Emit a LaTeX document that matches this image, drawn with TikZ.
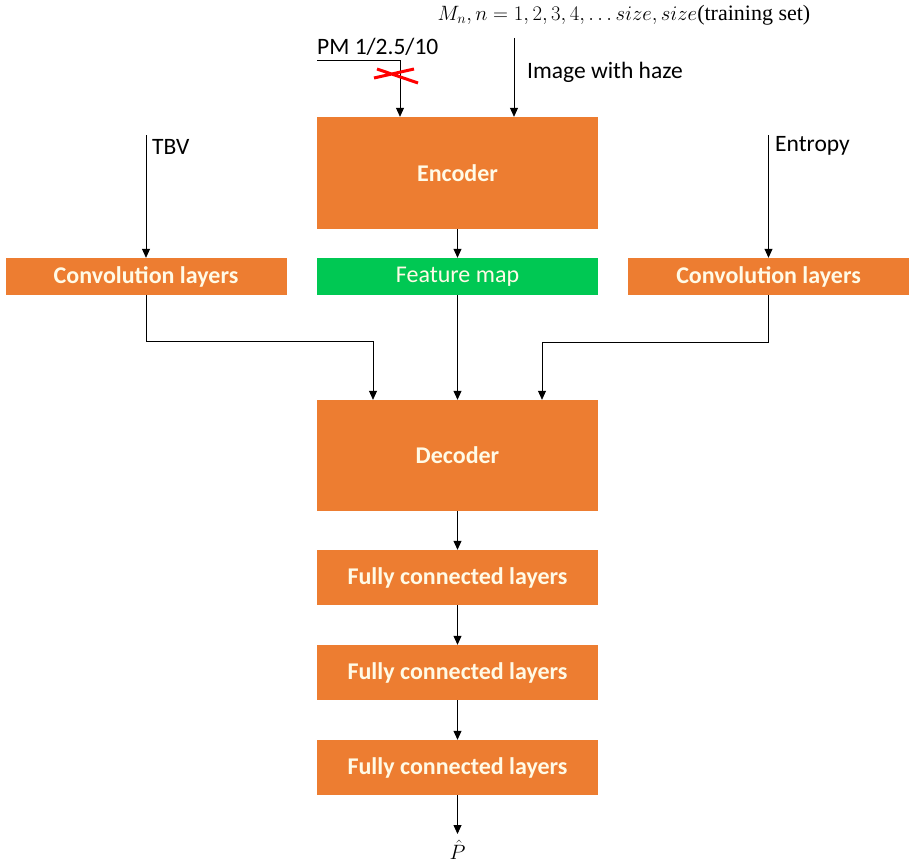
\documentclass[tikz,border=0pt]{standalone}
\usepackage{fontspec}
\setmainfont{Carlito}
\newfontfamily\timesfont{Liberation Serif}
\usetikzlibrary{arrows.meta}
\definecolor{boxorange}{RGB}{237,125,49}
\definecolor{boxgreen}{RGB}{0,200,83}
\definecolor{boxtext}{RGB}{255,250,230}
\tikzset{
  layer/.style={fill=boxorange,text=boxtext,font=\fontsize{24}{28}\selectfont\bfseries,
    minimum width=281pt,inner sep=0pt},
  feat/.style={layer,fill=boxgreen,font=\fontsize{24}{28}\selectfont},
  lbl/.style={font=\fontsize{23.5}{28}\selectfont,inner sep=0pt},
  link/.style={-{Triangle[length=9pt,width=8pt]},line width=0.8pt}
}
\begin{document}
\begin{tikzpicture}[x=1pt,y=-1pt]
\useasboundingbox (0,0) rectangle (916,867);
% boxes
\node[layer,minimum height=112pt] (enc) at (457.5,173) {Encoder};
\node[layer,minimum height=37pt] (convl) at (146,276.5) {Convolution layers};
\node[feat,minimum height=37pt] (fmap) at (457.5,276.5) {Feature map};
\node[layer,minimum height=37pt] (convr) at (768.5,276.5) {Convolution layers};
\node[layer,minimum height=111pt] (dec) at (457.5,455.5) {Decoder};
\node[layer,minimum height=55pt] (fc1) at (457.5,577.5) {Fully connected layers};
\node[layer,minimum height=55pt] (fc2) at (457.5,672.5) {Fully connected layers};
\node[layer,minimum height=55pt] (fc3) at (457.5,767.5) {Fully connected layers};
\node[inner sep=0pt,anchor=north,font=\fontsize{22}{24}\selectfont] (phat) at (457.5,840) {$\hat{P}$};
% labels
\node[inner sep=0pt,font=\timesfont\fontsize{22}{24}\selectfont] (mn) at (624,15)
  {$M_n, n=1,2,3,4,\ldots size, size$(training set)};
\node[lbl,anchor=west] (haze) at (527,72) {Image with haze};
\node[lbl,anchor=west] (pm) at (317,47) {PM 1/2.5/10};
\node[lbl,anchor=west] (tbv) at (152,147) {TBV};
\node[lbl,anchor=west] (ent) at (775,146) {Entropy};
% free ends
\coordinate (hazein) at (514,38);
\coordinate (pmin) at (317,60);
\coordinate (tbvin) at (146,135);
\coordinate (entin) at (768.5,135);
% connectors
\draw[link] (hazein) -- (hazein |- enc.north);
\draw[link] (pmin) -| ([xshift=-57.5pt]enc.north);
\draw[link] (tbvin) -- (convl);
\draw[link] (entin) -- (convr);
\draw[link] (enc) -- (fmap);
\draw[link] (fmap) -- (dec);
\draw[link] (convl.south) |- (373,341) -- ([xshift=-84.5pt]dec.north);
\draw[link] (convr.south) |- (542,342) -- ([xshift=84.5pt]dec.north);
\draw[link] (dec) -- (fc1);
\draw[link] (fc1) -- (fc2);
\draw[link] (fc2) -- (fc3);
\draw[link] (fc3.south) -- ([yshift=6pt]phat.north);
% cross
\draw[red,line width=3pt] (374,78) -- (414,69) (377,69) -- (418,83);
\end{tikzpicture}
\end{document}
